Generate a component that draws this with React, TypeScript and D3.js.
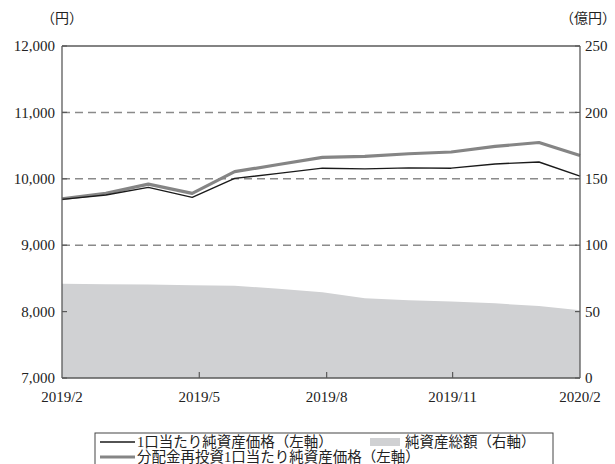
import React from 'react';
import * as d3 from 'd3';

const dates = ['2019-02-28','2019-03-31','2019-04-30','2019-05-31','2019-06-30','2019-07-31','2019-08-31','2019-09-30','2019-10-31','2019-11-30','2019-12-31','2020-01-31','2020-02-29'];
const navPrice = [9690, 9756, 9870, 9720, 10006, 10081, 10160, 10150, 10165, 10160, 10223, 10253, 10040];
const reinvPrice = [9700, 9780, 9920, 9780, 10107, 10216, 10322, 10337, 10377, 10404, 10488, 10547, 10350];
const netAssets = [71, 70.6, 70.4, 69.8, 69.4, 67.2, 64.5, 60, 58.6, 57.6, 56.2, 54.2, 51];
const leftTicks = [7000, 8000, 9000, 10000, 11000, 12000];
const rightTicks = [0, 50, 100, 150, 200, 250];
const gridTicks = [9000, 10000, 11000];
const xTickDates = ['2019-06-05', '2019-09-03', '2019-12-01'];
const xLabels = ['2019/2', '2019/5', '2019/8', '2019/11', '2020/2'];

const W = 615, H = 464;
const M = { l: 62, r: 580, t: 46, b: 378 };
const NUM_FONT = "'Liberation Serif', 'Times New Roman', 'DejaVu Serif', serif";
const JP_FONT = "'Liberation Serif', 'Times New Roman', 'Noto Sans CJK JP', serif";

export default function App() {
  const parse = d3.utcParse('%Y-%m-%d');
  const pts = dates.map(d => parse(d) as Date);
  const x = d3.scaleUtc().domain([pts[0], pts[pts.length - 1]]).range([M.l, M.r]);
  const yL = d3.scaleLinear().domain([7000, 12000]).range([M.b, M.t]);
  const yR = d3.scaleLinear().domain([0, 250]).range([M.b, M.t]);

  const area = d3.area<number>()
    .x((_, i) => x(pts[i]))
    .y0(yR(0))
    .y1(d => yR(d))(netAssets) || '';
  const line = d3.line<number>()
    .x((_, i) => x(pts[i]))
    .y(d => yL(d));

  const tickPos = [M.l, ...xTickDates.map(d => x(parse(d) as Date)), M.r];
  const axisColor = '#5a5a5a';
  const txt = { fill: '#222' };

  return (
    <svg width={W} height={H} style={{ position: 'absolute', left: 0, top: 0, background: '#fff' }}>
      <path d={area} fill="#d0d1d3" />
      {gridTicks.map(t => (
        <line key={t} x1={M.l} x2={M.r} y1={yL(t)} y2={yL(t)} stroke="#8a8a8a" strokeWidth={1.5} strokeDasharray="8,5" />
      ))}
      <path d={line(reinvPrice) || ''} fill="none" stroke="#858585" strokeWidth={3.2} strokeLinejoin="round" />
      <path d={line(navPrice) || ''} fill="none" stroke="#1a1a1a" strokeWidth={1.4} strokeLinejoin="round" />
      <line x1={M.l} x2={M.r} y1={M.t} y2={M.t} stroke={axisColor} strokeWidth={1.3} />
      <line x1={M.l} x2={M.l} y1={M.t} y2={M.b} stroke={axisColor} strokeWidth={1.3} />
      <line x1={M.r} x2={M.r} y1={M.t} y2={M.b} stroke={axisColor} strokeWidth={1.3} />
      <line x1={M.l} x2={M.r} y1={M.b} y2={M.b} stroke={axisColor} strokeWidth={1.3} />
      {leftTicks.map(t => (
        <g key={'l' + t}>
          <line x1={M.l} x2={M.l + 5} y1={yL(t)} y2={yL(t)} stroke={axisColor} strokeWidth={1.2} />
          <text x={55} y={yL(t)} dy="0.35em" textAnchor="end" style={{ fontFamily: NUM_FONT, fontSize: 15 }} {...txt}>{d3.format(',')(t)}</text>
        </g>
      ))}
      {rightTicks.map(t => (
        <g key={'r' + t}>
          <line x1={M.r - 5} x2={M.r} y1={yR(t)} y2={yR(t)} stroke={axisColor} strokeWidth={1.2} />
          <text x={585} y={yR(t)} dy="0.35em" textAnchor="start" style={{ fontFamily: NUM_FONT, fontSize: 15 }} {...txt}>{t}</text>
        </g>
      ))}
      {tickPos.map((p, i) => (
        <g key={'x' + i}>
          {i > 0 && i < tickPos.length - 1 && (
            <line x1={p} x2={p} y1={M.b} y2={M.b - 6} stroke={axisColor} strokeWidth={1.2} />
          )}
          <text x={p} y={397} dy="0.35em" textAnchor="middle" style={{ fontFamily: NUM_FONT, fontSize: 15 }} {...txt}>{xLabels[i]}</text>
        </g>
      ))}
      <text x={62} y={18} dy="0.35em" textAnchor="middle" style={{ fontFamily: JP_FONT, fontSize: 14 }} {...txt}>（円）</text>
      <text x={588} y={18} dy="0.35em" textAnchor="middle" style={{ fontFamily: JP_FONT, fontSize: 14 }} {...txt}>（億円）</text>
      <rect x={95} y={433} width={458} height={44} fill="none" stroke="#444" strokeWidth={1} />
      <line x1={100} x2={135} y1={442} y2={442} stroke="#1a1a1a" strokeWidth={1.5} />
      <text x={137} y={442} dy="0.35em" style={{ fontFamily: JP_FONT, fontSize: 14.5 }} {...txt}>1口当たり純資産価格（左軸）</text>
      <rect x={370} y={438} width={30} height={8} fill="#d0d1d3" />
      <text x={405} y={442} dy="0.35em" style={{ fontFamily: JP_FONT, fontSize: 14.5 }} {...txt}>純資産総額（右軸）</text>
      <line x1={100} x2={135} y1={457} y2={457} stroke="#858585" strokeWidth={3.2} />
      <text x={137} y={457} dy="0.35em" style={{ fontFamily: JP_FONT, fontSize: 14.5 }} {...txt}>分配金再投資1口当たり純資産価格（左軸）</text>
    </svg>
  );
}
